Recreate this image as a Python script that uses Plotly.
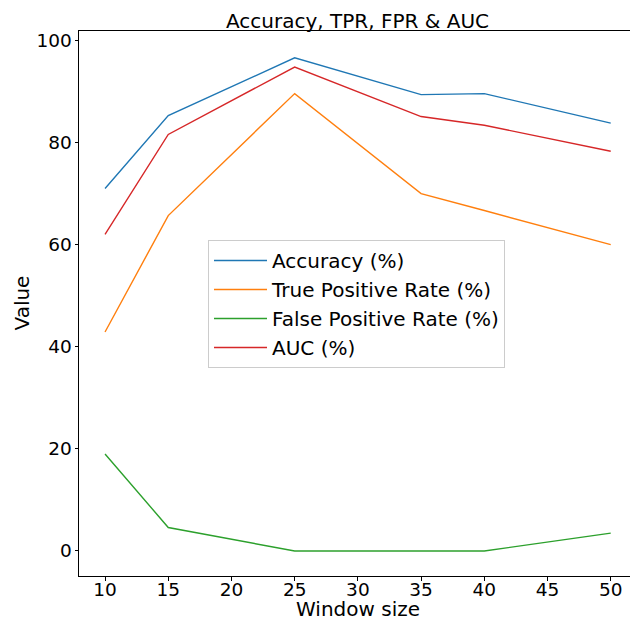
import plotly.graph_objects as go

window_sizes = [10, 15, 25, 35, 40, 50]
accuracy = [71.0, 85.3, 96.6, 89.4, 89.6, 83.8]
tpr = [42.9, 65.7, 89.6, 70.0, 66.7, 60.0]
fpr = [19.0, 4.6, 0.0, 0.0, 0.0, 3.5]
auc = [62.0, 81.6, 94.8, 85.1, 83.4, 78.3]
x_ticks = [10, 15, 20, 25, 30, 35, 40, 45, 50]
y_ticks = [0, 20, 40, 60, 80, 100]

series = [
    ("Accuracy (%)", accuracy, "#1f77b4"),
    ("True Positive Rate (%)", tpr, "#ff7f0e"),
    ("False Positive Rate (%)", fpr, "#2ca02c"),
    ("AUC (%)", auc, "#d62728"),
]

fig = go.Figure()
for name, vals, color in series:
    fig.add_trace(go.Scatter(x=window_sizes, y=vals, mode="lines", name=name,
                             line=dict(color=color, width=1.4)))

axis_common = dict(showline=True, linecolor="black", linewidth=1, mirror=True,
                   ticks="outside", ticklen=3.5, tickcolor="black", tickwidth=1,
                   showgrid=False, zeroline=False, automargin=False,
                   tickfont=dict(size=18.5, color="black"))

W, H = 640, 621
L, R, T, B = 79, 636, 31, 576  # plot area in page pixels

fig.update_layout(
    width=W, height=H,
    margin=dict(l=L, r=W - R, t=T, b=H - B),
    paper_bgcolor="white", plot_bgcolor="white",
    font=dict(family="DejaVu Sans", color="black"),
    title=dict(text="Accuracy, TPR, FPR & AUC", x=(L + R) / 2 / W, xanchor="center",
               y=1 - 21 / H, yanchor="middle", font=dict(size=20)),
    xaxis=dict(range=[7.94, 52.0], tickvals=x_ticks, ticklabelstandoff=-7,
               **axis_common),
    yaxis=dict(range=[-4.9, 101.86], tickvals=y_ticks, ticklabelstandoff=-1,
               **axis_common),
    legend=dict(x=(208 - L) / (R - L), y=(B - 240) / (B - T), xanchor="left", yanchor="top",
                bgcolor="white", bordercolor="#cccccc", borderwidth=1,
                font=dict(size=20), tracegroupgap=0, itemwidth=53),
    showlegend=True,
    annotations=[
        dict(text="Window size", xref="paper", yref="paper",
             x=0.5, y=-(609 - B) / (B - T), xanchor="center", yanchor="middle",
             showarrow=False, font=dict(size=20)),
        dict(text="Value", xref="paper", yref="paper", textangle=-90,
             x=-(L - 21) / (R - L), y=0.5, xanchor="center", yanchor="middle",
             showarrow=False, font=dict(size=20)),
    ],
)

fig.write_html(
    "out.html",
    config={"displayModeBar": False},
    post_script=(
        "document.body.style.margin='0';"
        "document.documentElement.style.overflow='hidden';"
        "document.body.style.overflow='hidden';"
    ),
)
